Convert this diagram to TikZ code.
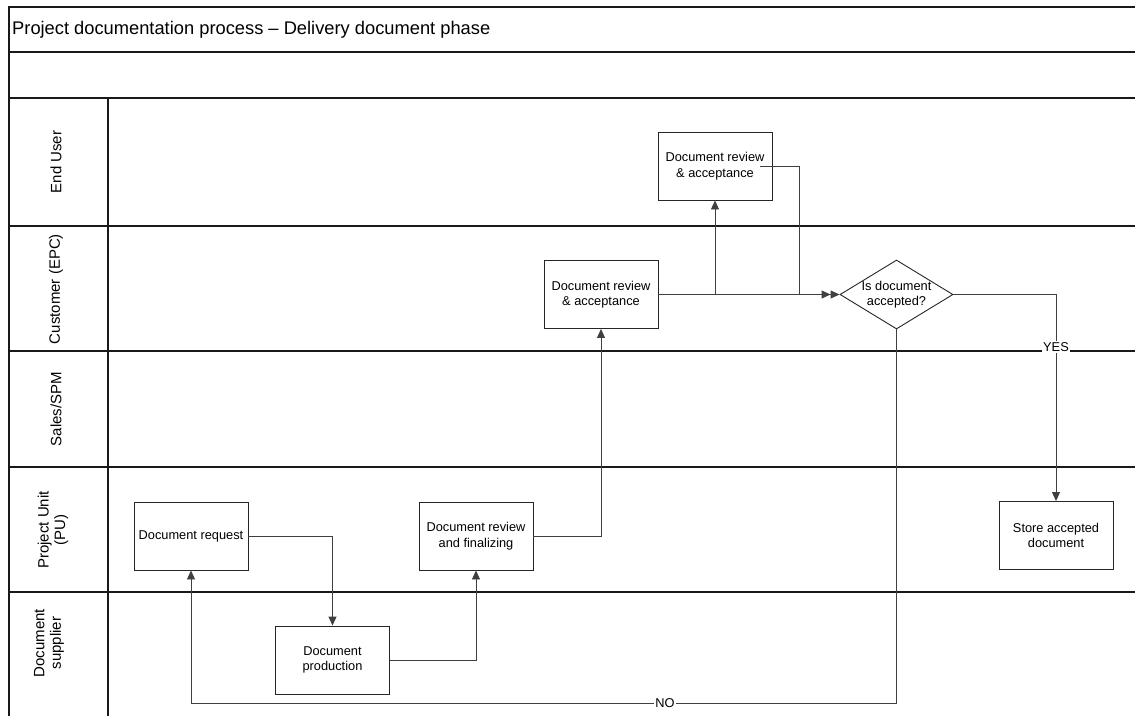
\documentclass[tikz,border=0pt]{standalone}
\usepackage{fontspec}
\setmainfont{Liberation Sans}
\usetikzlibrary{arrows.meta,shapes.geometric}

\begin{document}
\begin{tikzpicture}[x=1pt,y=-1pt,
  frame/.style={draw=black!90,line width=1.1pt},
  proc/.style={draw=black!85,line width=0.9pt,minimum width=114pt,minimum height=68pt,
    align=center,inner sep=0pt,font=\fontsize{12.8}{15.5}\selectfont},
  decision/.style={draw=black!85,line width=0.9pt,diamond,minimum width=113pt,
    minimum height=69pt,inner sep=0pt},
  txt/.style={align=center,inner sep=0pt,font=\fontsize{12.8}{15.5}\selectfont},
  lanelbl/.style={rotate=90,align=center,inner sep=0pt,font=\fontsize{15}{16.5}\selectfont},
  conn/.style={draw=black!75,line width=0.9pt},
  tip/.style={-{Triangle[length=9pt,width=8pt]}},
  lbl/.style={fill=white,inner sep=1pt,font=\fontsize{12.8}{15}\selectfont}]
\useasboundingbox (0,0) rectangle (1135,716);
\fill[white] (0,0) rectangle (1135,716);

% pool frame, title rows and lane separators
\draw[frame] (1135,7) -- (9,7) -- (9,716);
\draw[frame] (9,52) -- (1135,52);
\draw[frame] (9,98) -- (1135,98);
\draw[frame] (108,98) -- (108,716);
\foreach \yy in {226,351,467,592} \draw[frame] (9,\yy) -- (1135,\yy);

\node[anchor=west,inner sep=0pt,font=\fontsize{18.3}{20}\selectfont] (title) at (12,30)
  {Project documentation process -- Delivery document phase};

% lane names
\node[lanelbl] (lEU) at (56,162) {End User};
\node[lanelbl] (lCU) at (56,289) {Customer (EPC)};
\node[lanelbl] (lSA) at (56,409) {Sales/SPM};
\node[lanelbl] (lPU) at (53,530) {Project Unit\\(PU)};
\node[lanelbl] (lDS) at (49,643) {Document\\supplier};

% process steps
\node[proc] (req)   at (191,536)   {Document request};
\node[proc] (prod)  at (332.5,660) {Document\\production};
\node[proc] (fin)   at (476,536)   {Document review\\and finalizing};
\node[proc] (cust)  at (601,294.5) {Document review\\\& acceptance};
\node[proc] (eu)    at (715,166)   {Document review\\\& acceptance};
\node[proc] (store) at (1056,535.5){Store accepted\\document};
\node[decision] (dec) at (896.5,294.5) {};
\node[txt] (dectxt) at (dec.center) {Is document\\accepted?};

% helper points of the connectors
\coordinate (split) at (eu.south |- cust.east);
\coordinate (euout) at ([xshift=-12pt]eu.east);
\coordinate (join)  at (799,294.5);
\coordinate (loop)  at (dec.south |- 0,703);

% connectors
\draw[conn,tip] (req.east) -| (prod.north);
\draw[conn,tip] (prod.east) -| (fin.south);
\draw[conn,tip] (fin.east) -| (cust.south);
\draw[conn,-{Triangle[length=9pt,width=8pt] Triangle[length=9pt,width=8pt]}] (cust.east) -- (dec.west);
\draw[conn,tip] (split) -- (eu.south);
\draw[conn] (euout) -| (join);
\draw[conn,tip] (dec.east) -| (store.north);
\draw[conn,tip] (dec.south) -- (loop) -| (req.south);

\node[lbl] (yes) at (1056,347) {YES};
\node[lbl] (no)  at (665,703) {NO};
\end{tikzpicture}
\end{document}
